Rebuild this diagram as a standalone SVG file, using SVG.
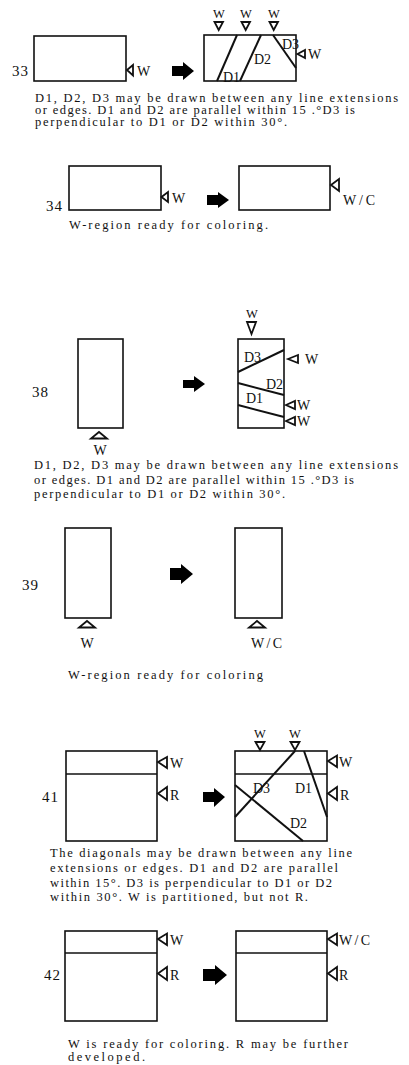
<svg xmlns="http://www.w3.org/2000/svg" width="409" height="1065" viewBox="0 0 409 1065">
<style>
text{font-family:"Liberation Serif","Times New Roman",serif;fill:#111}
.num{font-size:15px;letter-spacing:1px}
.cap{font-size:12.5px}
.lbl{font-size:14px}
.sm{font-size:12.5px}
.box{fill:#fff;stroke:#111;stroke-width:1.6}
.ln{stroke:#111;stroke-width:1.6;fill:none}
.dg{stroke:#111;stroke-width:2;fill:none}
.tri{fill:#fff;stroke:#111;stroke-width:1.8;stroke-linejoin:miter}
.arr{fill:#000}
</style>
<rect width="409" height="1065" fill="#fff"/>

<g id="connectors">
<path class="arr" d="M172,66 H183 V62 L194,71 L183,80 V76 H172 Z"/>
<path class="arr" d="M207,195 H218 V192 L229,200 L218,208 V205 H207 Z"/>
<path class="arr" d="M183,380 H194 V376 L205,384 L194,392 V388 H183 Z"/>
<path class="arr" d="M170,568 H181 V564 L193,574 L181,584 V580 H170 Z"/>
<path class="arr" d="M203,792 H214 V788 L225,797 L214,807 V802 H203 Z"/>
<path class="arr" d="M203,969 H215 V965 L227,975 L215,985 V981 H203 Z"/>
</g>

<g id="n33-left">
<text class="num" x="12" y="76">33</text>
<rect class="box" x="34" y="36" width="92" height="45"/>
<polygon class="tri" points="127,70 133,65 133,75.5"/>
<text class="lbl" x="137" y="76">W</text>
</g>
<g id="n33-right">
<rect class="box" x="204" y="35" width="92" height="46"/>
<line class="dg" x1="217" y1="81" x2="237" y2="35"/>
<line class="dg" x1="240" y1="81" x2="261" y2="35"/>
<line class="dg" x1="273" y1="35" x2="296" y2="68"/>
<polygon class="tri" points="214.5,22 223,22 218.7,30"/>
<polygon class="tri" points="241.5,22 250,22 245.7,30"/>
<polygon class="tri" points="269.5,22 278,22 273.7,30"/>
<text class="sm" x="219" y="18" text-anchor="middle">W</text>
<text class="sm" x="246" y="18" text-anchor="middle">W</text>
<text class="sm" x="274" y="18" text-anchor="middle">W</text>
<text class="lbl" x="223" y="82">D1</text>
<text class="lbl" x="254" y="64">D2</text>
<text class="lbl" x="282" y="49">D3</text>
<polygon class="tri" points="297.5,54 305,50 305,58"/>
<text class="lbl" x="308" y="59">W</text>
</g>
<g id="cap33">
<text class="cap" x="35" y="102" textLength="363" lengthAdjust="spacing">D1, D2, D3 may be drawn between any line extensions</text>
<text class="cap" x="35" y="114" textLength="320" lengthAdjust="spacing">or edges. D1 and D2 are parallel within 15 .°D3 is</text>
<text class="cap" x="35" y="126" textLength="252" lengthAdjust="spacing">perpendicular to D1 or D2 within 30°.</text>
</g>

<g id="n34-left">
<text class="num" x="46" y="211">34</text>
<rect class="box" x="69" y="166" width="92" height="44"/>
<polygon class="tri" points="161.5,197 168,192 168,202"/>
<text class="lbl" x="172" y="203">W</text>
</g>
<g id="n34-right">
<rect class="box" x="239" y="166" width="91" height="44"/>
<polygon class="tri" points="331,185 339,179 339,191"/>
<text class="lbl" x="343" y="205" textLength="32" lengthAdjust="spacing">W/C</text>
</g>
<g id="cap34">
<text class="cap" x="69" y="229" textLength="199" lengthAdjust="spacing">W-region ready for coloring.</text>
</g>

<g id="n38-left">
<text class="num" x="32" y="397">38</text>
<rect class="box" x="78" y="339" width="45" height="89"/>
<polygon class="tri" points="91,438.5 107,438.5 99,432"/>
<text class="lbl" x="100" y="455" text-anchor="middle">W</text>
</g>
<g id="n38-right">
<rect class="box" x="238" y="339" width="46" height="89"/>
<polygon class="tri" points="247,322 256,322 251.5,334"/>
<text class="sm" x="252" y="318" text-anchor="middle">W</text>
<line class="dg" x1="238" y1="372" x2="284" y2="350"/>
<line class="dg" x1="238" y1="383" x2="284" y2="395"/>
<line class="dg" x1="238" y1="405" x2="284" y2="417"/>
<text class="lbl" x="244" y="362">D3</text>
<text class="lbl" x="266" y="389">D2</text>
<text class="lbl" x="246" y="403">D1</text>
<polygon class="tri" points="288,359 298,355 298,363"/>
<text class="lbl" x="305" y="364">W</text>
<polygon class="tri" points="286,405 295,401 295,409"/>
<text class="lbl" x="297" y="410">W</text>
<polygon class="tri" points="286,421 295,417 295,425"/>
<text class="lbl" x="297" y="426">W</text>
</g>
<g id="cap38">
<text class="cap" x="34" y="469" textLength="364" lengthAdjust="spacing">D1, D2, D3 may be drawn between any line extensions</text>
<text class="cap" x="34" y="484" textLength="320" lengthAdjust="spacing">or edges. D1 and D2 are parallel within 15 .°D3 is</text>
<text class="cap" x="34" y="498" textLength="251" lengthAdjust="spacing">perpendicular to D1 or D2 within 30°.</text>
</g>

<g id="n39-left">
<text class="num" x="22" y="590">39</text>
<rect class="box" x="65" y="528" width="46" height="90"/>
<polygon class="tri" points="79,627.5 95,627.5 87,621"/>
<text class="lbl" x="87" y="648" text-anchor="middle">W</text>
</g>
<g id="n39-right">
<rect class="box" x="235" y="528" width="47" height="90"/>
<polygon class="tri" points="249,627.5 265,627.5 257,621"/>
<text class="lbl" x="251" y="648" textLength="31" lengthAdjust="spacing">W/C</text>
</g>
<g id="cap39">
<text class="cap" x="68" y="679" textLength="195" lengthAdjust="spacing">W-region ready for coloring</text>
</g>

<g id="n41-left">
<text class="num" x="42" y="802">41</text>
<rect class="box" x="66" y="751" width="91" height="90"/>
<line class="ln" x1="66" y1="774" x2="157" y2="774"/>
<polygon class="tri" points="158,762 167,757 167,768"/>
<text class="lbl" x="170" y="768">W</text>
<polygon class="tri" points="158,793.5 167,787 167,800"/>
<text class="lbl" x="170" y="800">R</text>
</g>
<g id="n41-right">
<rect class="box" x="235" y="751" width="92" height="90"/>
<line class="ln" x1="235" y1="774" x2="327" y2="774"/>
<line class="dg" x1="235" y1="817" x2="295" y2="751"/>
<line class="dg" x1="235" y1="785" x2="303" y2="841"/>
<line class="dg" x1="304" y1="751" x2="327" y2="817"/>
<polygon class="tri" points="255.5,742 264.5,742 260,750"/>
<polygon class="tri" points="290.5,742 299.5,742 295,750"/>
<text class="sm" x="260" y="738" text-anchor="middle">W</text>
<text class="sm" x="295" y="738" text-anchor="middle">W</text>
<text class="lbl" x="253" y="793">D3</text>
<text class="lbl" x="295" y="793">D1</text>
<text class="lbl" x="290" y="828">D2</text>
<polygon class="tri" points="328,761 337,755.5 337,767"/>
<text class="lbl" x="339" y="767">W</text>
<polygon class="tri" points="328,793.5 337,787 337,800"/>
<text class="lbl" x="340" y="800">R</text>
</g>
<g id="cap41">
<text class="cap" x="50" y="857" textLength="302" lengthAdjust="spacing">The diagonals may be drawn between any line</text>
<text class="cap" x="50" y="872" textLength="288" lengthAdjust="spacing">extensions or edges.  D1 and D2 are parallel</text>
<text class="cap" x="50" y="887" textLength="282" lengthAdjust="spacing">within 15°. D3 is perpendicular to D1 or D2</text>
<text class="cap" x="50" y="901" textLength="258" lengthAdjust="spacing">within 30°. W is partitioned, but not R.</text>
</g>

<g id="n42-left">
<text class="num" x="44" y="980">42</text>
<rect class="box" x="65" y="931" width="92" height="90"/>
<line class="ln" x1="65" y1="953" x2="157" y2="953"/>
<polygon class="tri" points="158,939 167,933.5 167,945"/>
<text class="lbl" x="170" y="945">W</text>
<polygon class="tri" points="158,973.5 167,967 167,980"/>
<text class="lbl" x="170" y="980">R</text>
</g>
<g id="n42-right">
<rect class="box" x="236" y="931" width="91" height="90"/>
<line class="ln" x1="236" y1="953" x2="327" y2="953"/>
<polygon class="tri" points="328,939 337,933.5 337,945"/>
<text class="lbl" x="339" y="945" textLength="31" lengthAdjust="spacing">W/C</text>
<polygon class="tri" points="328,973.5 337,967 337,980"/>
<text class="lbl" x="339" y="980">R</text>
</g>
<g id="cap42">
<text class="cap" x="68" y="1048" textLength="280" lengthAdjust="spacing">W is ready for coloring. R may be further</text>
<text class="cap" x="68" y="1061" textLength="77" lengthAdjust="spacing">developed.</text>
</g>
</svg>
